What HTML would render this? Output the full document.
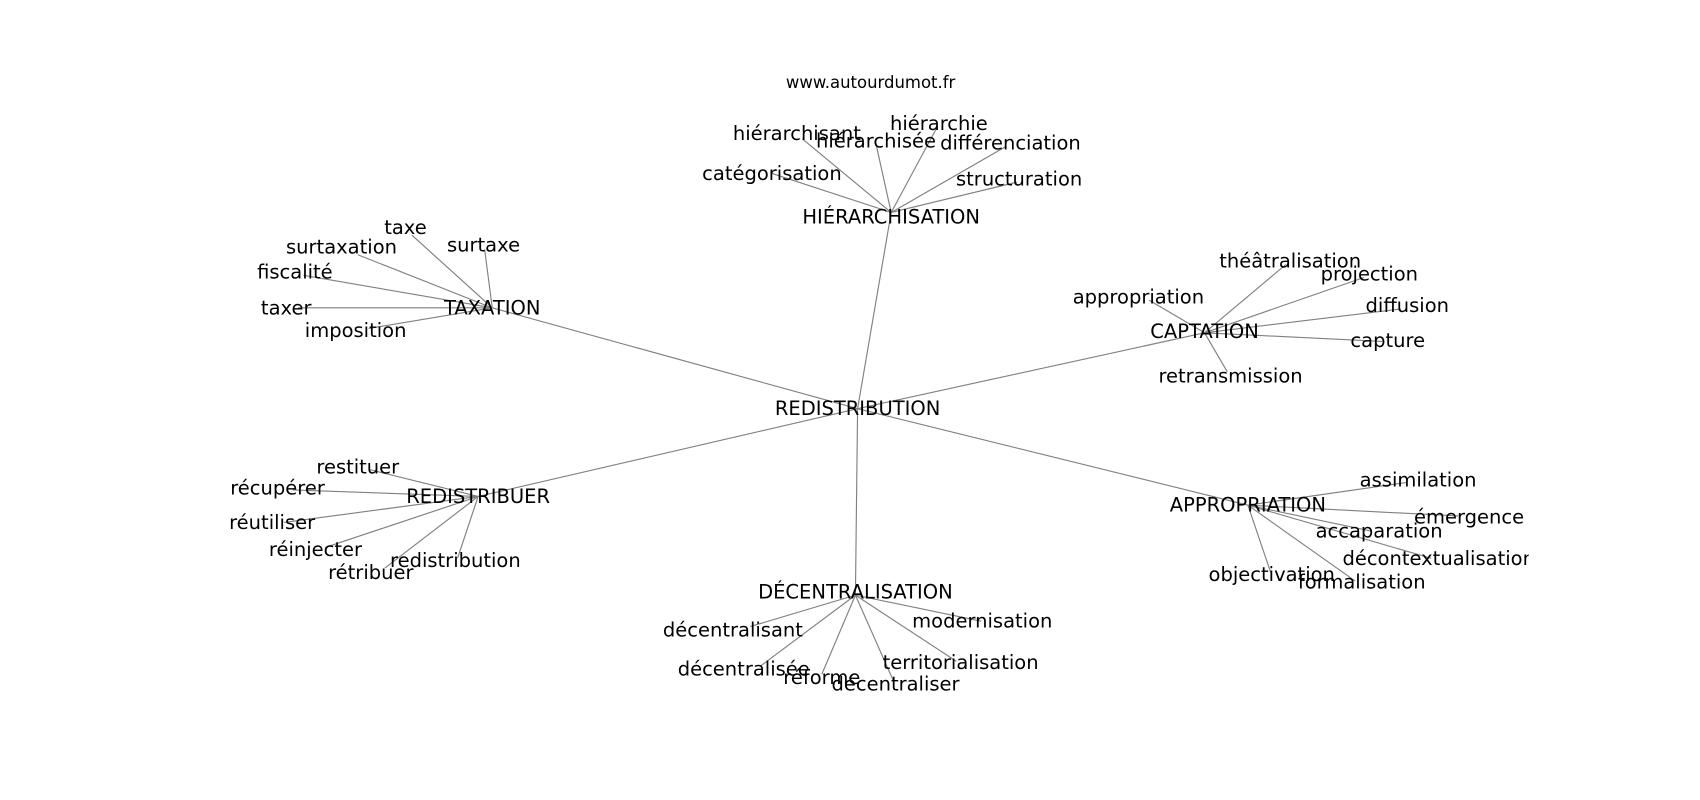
<!DOCTYPE html>
<html><head><meta charset="utf-8"><style>
html,body{margin:0;padding:0;background:#fff;}
svg{display:block;}
text{font-family:"DejaVu Sans","Liberation Sans",sans-serif;font-size:18px;fill:#000;text-anchor:middle;dominant-baseline:central;}
line{stroke:#808080;stroke-width:1.05;}
</style></head><body>
<svg width="1700" height="800" viewBox="0 0 1568 738" preserveAspectRatio="none" xmlns="http://www.w3.org/2000/svg">
<defs><clipPath id="c"><rect x="0" y="0" width="1410" height="738"/></clipPath></defs>
<g id="edges">
<line x1="791" y1="377" x2="822" y2="196"/>
<line x1="791" y1="377" x2="454" y2="284"/>
<line x1="791" y1="377" x2="1111" y2="307"/>
<line x1="791" y1="377" x2="441" y2="458"/>
<line x1="791" y1="377" x2="1151" y2="466"/>
<line x1="791" y1="377" x2="789" y2="549"/>
<line x1="822" y1="196" x2="740" y2="128"/>
<line x1="822" y1="196" x2="808" y2="133"/>
<line x1="822" y1="196" x2="864" y2="118"/>
<line x1="822" y1="196" x2="928" y2="135"/>
<line x1="822" y1="196" x2="938" y2="168"/>
<line x1="822" y1="196" x2="712" y2="160"/>
<line x1="454" y1="284" x2="380" y2="217"/>
<line x1="454" y1="284" x2="330" y2="235"/>
<line x1="454" y1="284" x2="447" y2="230"/>
<line x1="454" y1="284" x2="280" y2="254"/>
<line x1="454" y1="284" x2="275" y2="284"/>
<line x1="454" y1="284" x2="340" y2="303"/>
<line x1="1111" y1="307" x2="1186" y2="244"/>
<line x1="1111" y1="307" x2="1258" y2="256"/>
<line x1="1111" y1="307" x2="1060" y2="277"/>
<line x1="1111" y1="307" x2="1292" y2="285"/>
<line x1="1111" y1="307" x2="1275" y2="315"/>
<line x1="1111" y1="307" x2="1132" y2="343"/>
<line x1="441" y1="458" x2="340" y2="433"/>
<line x1="441" y1="458" x2="270" y2="452"/>
<line x1="441" y1="458" x2="262" y2="482"/>
<line x1="441" y1="458" x2="300" y2="505"/>
<line x1="441" y1="458" x2="355" y2="524"/>
<line x1="441" y1="458" x2="422" y2="515"/>
<line x1="1151" y1="466" x2="1298" y2="445"/>
<line x1="1151" y1="466" x2="1345" y2="476"/>
<line x1="1151" y1="466" x2="1265" y2="490"/>
<line x1="1151" y1="466" x2="1320" y2="515"/>
<line x1="1151" y1="466" x2="1172" y2="528"/>
<line x1="1151" y1="466" x2="1250" y2="536"/>
<line x1="789" y1="549" x2="692" y2="578"/>
<line x1="789" y1="549" x2="905" y2="573"/>
<line x1="789" y1="549" x2="702" y2="614"/>
<line x1="789" y1="549" x2="882" y2="610"/>
<line x1="789" y1="549" x2="758" y2="622"/>
<line x1="789" y1="549" x2="824" y2="628"/>
</g>
<text x="803" y="76" style="font-size:15.2px">www.autourdumot.fr</text>
<text x="791" y="377">REDISTRIBUTION</text>
<text x="822" y="200">HIÉRARCHISATION</text>
<text x="454" y="284">TAXATION</text>
<text x="1111" y="306">CAPTATION</text>
<text x="441" y="458">REDISTRIBUER</text>
<text x="1151" y="466">APPROPRIATION</text>
<text x="789" y="546">DÉCENTRALISATION</text>

<text x="735" y="123">hiérarchisant</text>
<text x="808" y="130">hiérarchisée</text>
<text x="866" y="114">hiérarchie</text>
<text x="932" y="132">différenciation</text>
<text x="940" y="165">structuration</text>
<text x="712" y="160">catégorisation</text>

<text x="374" y="210">taxe</text>
<text x="315" y="228">surtaxation</text>
<text x="446" y="226">surtaxe</text>
<text x="272" y="251">fiscalité</text>
<text x="264" y="284">taxer</text>
<text x="328" y="305">imposition</text>

<text x="1190" y="241">théâtralisation</text>
<text x="1263" y="253">projection</text>
<text x="1050" y="274">appropriation</text>
<text x="1298" y="282">diffusion</text>
<text x="1280" y="314">capture</text>
<text x="1135" y="347">retransmission</text>

<text x="330" y="431">restituer</text>
<text x="256" y="450">récupérer</text>
<text x="251" y="482">réutiliser</text>
<text x="291" y="507">réinjecter</text>
<text x="342" y="528">rétribuer</text>
<text x="420" y="517">redistribution</text>

<text x="1308" y="443">assimilation</text>
<text x="1355" y="477">émergence</text>
<text x="1272" y="490">accaparation</text>
<text x="1327" y="515" clip-path="url(#c)">décontextualisation</text>
<text x="1173" y="530">objectivation</text>
<text x="1256" y="537">formalisation</text>

<text x="676" y="581">décentralisant</text>
<text x="906" y="573">modernisation</text>
<text x="686" y="617">décentralisée</text>
<text x="886" y="611">territorialisation</text>
<text x="758" y="625">réforme</text>
<text x="826" y="631">décentraliser</text>
</svg>
</body></html>
